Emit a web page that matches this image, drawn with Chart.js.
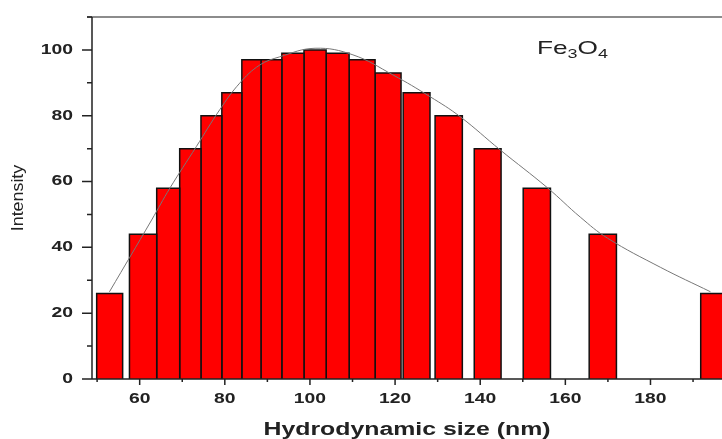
<!DOCTYPE html>
<html>
<head>
<meta charset="utf-8">
<script src="https://cdn.jsdelivr.net/npm/chart.js@4.4.1/dist/chart.umd.min.js"></script>
<style>
  html, body { margin: 0; padding: 0; background: #fff; }
  #wrap { width: 722px; height: 439px; position: relative; }
</style>
</head>
<body>
<div id="wrap"><canvas id="myChart"></canvas></div>
<script>
// histogram bins (nm) and intensity
const binLow  = [49.9, 57.6, 64.0, 69.4, 74.4, 79.3, 84.0, 88.5, 93.4, 98.6, 103.8, 109.2, 115.3, 121.9, 129.4, 138.6, 150.1, 165.6, 191.8];
const binHigh = [56.0, 64.0, 69.4, 74.4, 79.3, 84.0, 88.5, 93.4, 98.6, 103.8, 109.2, 115.3, 121.4, 128.2, 135.8, 144.9, 156.5, 172.0, 198.2];
const intensity = [26, 44, 58, 70, 80, 87, 97, 97, 99, 100, 99, 97, 93, 87, 80, 70, 58, 44, 26];

// fitted curve
const fitX = [52.9, 62.8, 67.1, 73.3, 78.8, 83.5, 88.2, 92.9, 101.2, 110.1, 119.5, 128.2, 135.3, 144.7, 155.8, 163.5, 169.9, 182.4, 194.1];
const fitY = [26.5, 48.3, 58.0, 70.6, 81.8, 89.9, 95.4, 97.9, 100.5, 98.5, 92.4, 85.8, 79.7, 69.6, 58.1, 49.2, 42.8, 33.9, 26.5];

// ticks
const xMajorTicks = [60, 80, 100, 120, 140, 160, 180];
const xMinorTicks = [50, 70, 90, 110, 130, 150, 170, 190];
const yMajorTicks = [0, 20, 40, 60, 80, 100];
const yMinorTicks = [10, 30, 50, 70, 90, 110];

const FONT = '"Liberation Sans", Arial, sans-serif';
const SX = 1.38; // horizontal text is stretched in the original

function stretchText(ctx, text, x, y, align, sx) {
    ctx.save();
    ctx.translate(x, y);
    ctx.scale(sx, 1);
    ctx.textAlign = align;
    ctx.fillText(text, 0, 0);
    ctx.restore();
}

const axesPlugin = {
    id: 'axesPlugin',
    afterDraw(chart) {
        const ctx = chart.ctx;
        const xs = chart.scales.x;
        const ys = chart.scales.y;
        const a = chart.chartArea;
        ctx.save();

        // top frame line
        ctx.strokeStyle = '#666';
        ctx.lineWidth = 1.5;
        ctx.beginPath();
        ctx.moveTo(a.left - 5, a.top);
        ctx.lineTo(a.right, a.top);
        ctx.stroke();

        // axis lines
        ctx.strokeStyle = '#222';
        ctx.beginPath();
        ctx.moveTo(a.left, a.top);
        ctx.lineTo(a.left, a.bottom);
        ctx.moveTo(a.left, a.bottom);
        ctx.lineTo(a.right, a.bottom);
        ctx.stroke();

        // ticks
        ctx.beginPath();
        xMajorTicks.forEach(v => {
            const px = xs.getPixelForValue(v);
            ctx.moveTo(px, a.bottom);
            ctx.lineTo(px, a.bottom + 6);
        });
        xMinorTicks.forEach(v => {
            const px = xs.getPixelForValue(v);
            ctx.moveTo(px, a.bottom);
            ctx.lineTo(px, a.bottom + 3);
        });
        yMajorTicks.forEach(v => {
            const py = ys.getPixelForValue(v);
            ctx.moveTo(a.left, py);
            ctx.lineTo(a.left - 10, py);
        });
        yMinorTicks.forEach(v => {
            const py = ys.getPixelForValue(v);
            ctx.moveTo(a.left, py);
            ctx.lineTo(a.left - 5, py);
        });
        ctx.stroke();

        // tick labels
        ctx.fillStyle = '#222';
        ctx.font = 'bold 14px ' + FONT;
        ctx.textBaseline = 'alphabetic';
        xMajorTicks.forEach(v => {
            stretchText(ctx, String(v), xs.getPixelForValue(v), a.bottom + 24, 'center', SX);
        });
        ctx.textBaseline = 'middle';
        yMajorTicks.forEach(v => {
            stretchText(ctx, String(v), a.left - 19, ys.getPixelForValue(v), 'right', SX);
        });

        // axis titles
        ctx.textBaseline = 'alphabetic';
        ctx.font = 'bold 18px ' + FONT;
        stretchText(ctx, 'Hydrodynamic size (nm)', (a.left + a.right) / 2, a.bottom + 56, 'center', SX);

        ctx.save();
        ctx.translate(23, (a.top + a.bottom) / 2);
        ctx.rotate(-Math.PI / 2);
        ctx.scale(1.05, 1);
        ctx.font = '17px ' + FONT;
        ctx.textAlign = 'center';
        ctx.fillText('Intensity', 0, 0);
        ctx.restore();

        // Fe3O4 label
        ctx.textAlign = 'left';
        let x = 537;
        const parts = [['Fe', 19, 54], ['3', 13, 58], ['O', 19, 54], ['4', 13, 58]];
        parts.forEach(p => {
            ctx.font = p[1] + 'px ' + FONT;
            stretchText(ctx, p[0], x, p[2], 'left', SX);
            x += ctx.measureText(p[0]).width * SX;
        });

        ctx.restore();
    }
};

const barSets = intensity.map((h, i) => ({
    data: [
        {x: binLow[i], y: 0},
        {x: binLow[i], y: h},
        {x: binHigh[i], y: h},
        {x: binHigh[i], y: 0}
    ],
    fill: 'origin',
    backgroundColor: '#ff0000',
    borderColor: '#111',
    borderWidth: 1.5,
    pointRadius: 0,
    tension: 0,
    order: 1
}));

const fitSet = {
    data: fitX.map((x, i) => ({x: x, y: fitY[i]})),
    borderColor: '#777',
    borderWidth: 1,
    pointRadius: 0,
    fill: false,
    tension: 0.4,
    order: 0
};

new Chart(document.getElementById('myChart'), {
    type: 'line',
    data: { datasets: [fitSet].concat(barSets) },
    options: {
        responsive: true,
        maintainAspectRatio: false,
        animation: false,
        layout: { padding: { top: 17, right: 0, left: 0, bottom: 0 } },
        plugins: { legend: { display: false }, tooltip: { enabled: false } },
        scales: {
            x: {
                type: 'linear',
                min: 48.8,
                max: 196.8,
                grid: { display: false },
                border: { display: false },
                ticks: { display: false },
                afterFit(s) { s.height = 60; }
            },
            y: {
                min: 0,
                max: 110,
                grid: { display: false },
                border: { display: false },
                ticks: { display: false },
                afterFit(s) { s.width = 92; }
            }
        }
    },
    plugins: [axesPlugin]
});
</script>
</body>
</html>
